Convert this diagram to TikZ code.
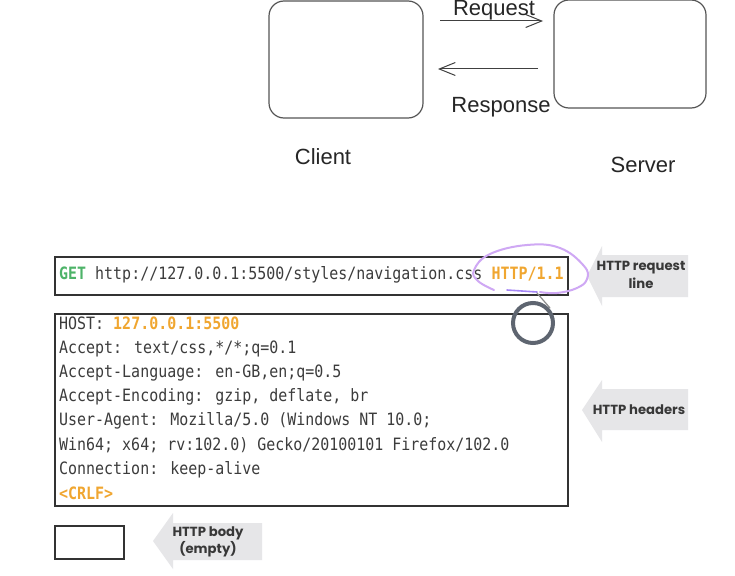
\documentclass[tikz,border=0pt]{standalone}
\usepackage{fontspec}
\usetikzlibrary{arrows.meta,calc}
\newfontfamily\sansf{Liberation Sans}
\newfontfamily\monof[FakeStretch=0.88]{DejaVu Sans Mono}
\newfontfamily\labf{Poppins}
\definecolor{boxgray}{HTML}{555555}
\definecolor{codegray}{HTML}{3C3C3C}
\definecolor{getgreen}{HTML}{4DB368}
\definecolor{httporange}{HTML}{F0A630}
\definecolor{tagfill}{HTML}{E6E6E8}
\definecolor{lav}{HTML}{CFA8F4}
\definecolor{ringgray}{HTML}{5E6570}
\tikzset{
  cbox/.style={draw=boxgray, line width=1.2pt, rounded corners=15pt, minimum width=154pt, minimum height=117pt, inner sep=0pt},
  sbox/.style={draw=boxgray, line width=1.2pt, rounded corners=15pt, minimum width=152pt, minimum height=108pt, inner sep=0pt},
  bigtext/.style={font=\sansf\fontsize{22}{26}\selectfont, text=black!85, anchor=base, inner sep=0pt},
  arr/.style={draw=black!75, line width=1pt, -{Straight Barb[length=16pt,width=13pt,line width=1pt]}},
  codebox/.style={draw=black!80, line width=1.5pt, inner sep=0pt, anchor=north west},
  code/.style={font=\monof\fontsize{17}{20}\selectfont, text=codegray, anchor=base west, inner sep=0pt},
  tagtext/.style={font=\labf\bfseries\fontsize{13.2}{17.5}\selectfont, text=black!78, align=center, inner sep=0pt},
}
\begin{document}
\begin{tikzpicture}[x=1pt,y=-1pt]
\useasboundingbox (0,0) rectangle (735,575);
\fill[white] (0,0) rectangle (735,575);

% top: client / server
\node[cbox] (client) at (346,59.5) {};
\node[sbox] (server) at (630,54) {};
\coordinate (rqs) at (440,21);
\coordinate (rqe) at (543,21);
\coordinate (rss) at (538,69);
\coordinate (rse) at (438,69);
\draw[arr] (rqs) -- (rqe);
\draw[arr] (rss) -- (rse);
\node[bigtext] (lreq) at (494,16) {Request};
\node[bigtext] (lres) at (501,113) {Response};
\node[bigtext] (lcli) at (323,164) {Client};
\node[bigtext] (lsrv) at (643,172) {Server};

% request line box
\node[codebox, minimum width=513pt, minimum height=38pt] (reqline) at (54,256) {};
\node[code] (reqtext) at (59,279) {\textcolor{getgreen}{\bfseries GET} http://127.0.0.1:5500/styles/navigation.css \textcolor{httporange}{\bfseries HTTP/1.1}};

% headers box
\node[codebox, minimum width=513pt, minimum height=192pt] (headers) at (54,313) {};
\node[code] (h1) at (59,329) {HOST: \textcolor{httporange}{\bfseries 127.0.0.1:5500}};
\node[code] (h2) at (59,353) {Accept: text/css,*/*;q=0.1};
\node[code] (h3) at (59,377) {Accept-Language: en-GB,en;q=0.5};
\node[code] (h4) at (59,401) {Accept-Encoding: gzip, deflate, br};
\node[code] (h5) at (59,425) {User-Agent: Mozilla/5.0 (Windows NT 10.0;};
\node[code] (h6) at (59,450) {Win64; x64; rv:102.0) Gecko/20100101 Firefox/102.0};
\node[code] (h7) at (59,474) {Connection: keep-alive};
\node[code] (h8) at (59,499) {\textcolor{httporange}{\bfseries <CRLF>}};

% body box
\node[codebox, minimum width=69pt, minimum height=33pt] (body) at (54,525) {};

% tag arrows
\fill[tagfill] (587,276) -- (602,246) -- (602,255) -- (688,255) -- (688,297) -- (602,297) -- (602,306) -- cycle;
\node[tagtext] (treq) at (641,275) {HTTP request\\line};
\fill[tagfill] (582,410) -- (602,380) -- (602,389) -- (688,389) -- (688,430) -- (602,430) -- (602,442) -- cycle;
\node[tagtext] (thead) at (639,410) {HTTP headers};
\fill[tagfill] (153,541) -- (173,513) -- (173,523) -- (262,523) -- (262,560) -- (173,560) -- (173,569) -- cycle;
\node[tagtext] (tbody) at (208,542) {HTTP body\\(empty)};

% annotations
\draw[lav, line width=2pt, line cap=round] plot[smooth, tension=0.7] coordinates {(494,290) (478,281) (474,270) (490,254) (527,245) (560,248) (584,266) (587,279) (577,288) (557,293) (540,292)};
\draw[lav!80!blue, line width=1.6pt, line cap=round] (507,290) -- (537,292);
\draw[black!45, line width=1.2pt, line cap=round] (537,293) -- (550,308);
\node[draw=ringgray, line width=4pt, circle, minimum size=40pt, inner sep=0pt] (cursor) at (533,323) {};
\end{tikzpicture}
\end{document}
